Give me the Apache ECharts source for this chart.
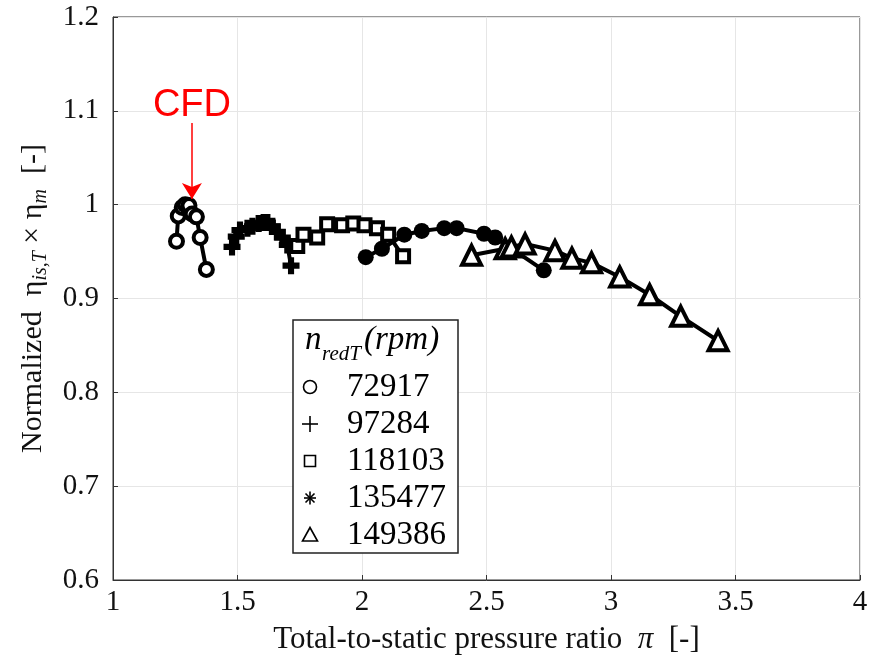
<!DOCTYPE html>
<html>
<head>
<meta charset="utf-8">
<script src="https://cdn.jsdelivr.net/npm/echarts@6/dist/echarts.min.js"></script>
<style>html,body{margin:0;padding:0;background:#fff}#c{width:881px;height:662px}</style>
</head>
<body>
<div id="c"></div>
<script>
// ---- data ----
const speedNames = ['72917', '97284', '118103', '135477', '149386'];
const xTickLabels = ['1', '1.5', '2', '2.5', '3', '3.5', '4'];
const yTickLabels = ['0.6', '0.7', '0.8', '0.9', '1', '1.1', '1.2'];

const pr72917  = [1.255, 1.262, 1.278, 1.290, 1.305, 1.318, 1.335, 1.350, 1.375];
const eta72917 = [0.961, 0.988, 0.997, 1.000, 0.999, 0.990, 0.987, 0.965, 0.931];

const pr97284  = [1.478, 1.495, 1.510, 1.540, 1.560, 1.585, 1.605, 1.620, 1.640, 1.660, 1.680, 1.700, 1.715];
const eta97284 = [0.955, 0.966, 0.973, 0.975, 0.977, 0.980, 0.981, 0.981, 0.977, 0.971, 0.965, 0.957, 0.935];

const pr118103  = [1.740, 1.765, 1.820, 1.860, 1.920, 1.965, 2.010, 2.060, 2.105, 2.165];
const eta118103 = [0.956, 0.968, 0.965, 0.979, 0.978, 0.980, 0.978, 0.975, 0.968, 0.945];

const pr135477  = [2.015, 2.080, 2.170, 2.240, 2.330, 2.380, 2.490, 2.535, 2.730];
const eta135477 = [0.944, 0.953, 0.968, 0.972, 0.975, 0.975, 0.969, 0.965, 0.930];

const pr149386  = [2.440, 2.575, 2.600, 2.655, 2.775, 2.843, 2.922, 3.035, 3.155, 3.280, 3.430];
const eta149386 = [0.946, 0.953, 0.955, 0.958, 0.951, 0.943, 0.938, 0.923, 0.904, 0.881, 0.855];

const cfdPoint = [1.317, 1.006];
const cfdStart = [1.317, 1.087];

// ---- build ----
const zip = (a, b) => a.map((v, i) => [v, b[i]]);
const SERIF = 'Liberation Serif';
const PLUS = 'path://M3.2,0H6.8V3.2H10V6.8H6.8V10H3.2V6.8H0V3.2H3.2Z';

function lineSeries(name, x, y, symbol, size, filled) {
  return {
    name: name, type: 'line', data: zip(x, y),
    symbol: symbol, symbolSize: size, showSymbol: true,
    lineStyle: {color: '#000', width: 4},
    itemStyle: filled
      ? {color: '#000', borderColor: '#000', borderWidth: 0}
      : {color: '#fff', borderColor: '#000', borderWidth: 4},
    emphasis: {disabled: true}, animation: false, z: 3
  };
}

const series = [
  lineSeries(speedNames[0], pr72917, eta72917, 'circle', 13, false),
  lineSeries(speedNames[1], pr97284, eta97284, PLUS, 17, true),
  lineSeries(speedNames[2], pr118103, eta118103, 'rect', 12, false),
  lineSeries(speedNames[3], pr135477, eta135477, 'circle', 16, true),
  lineSeries(speedNames[4], pr149386, eta149386, 'triangle', 19, false)
];
series[0].markLine = {
  silent: true, animation: false,
  symbol: ['none', 'arrow'], symbolSize: [15, 16],
  lineStyle: {color: '#ff0000', width: 1.5, type: 'solid'},
  label: {show: true, position: 'start', formatter: 'CFD', color: '#ff0000',
          fontSize: 38, fontFamily: 'Liberation Sans', distance: -1},
  data: [[{coord: cfdStart}, {coord: cfdPoint}]]
};

// legend box (graphic)
const LX = 293, LY = 320, LW = 165, LH = 233;
const rowY = [387, 424, 461, 498, 535];
const iconX = 310;
const legendGraphic = [
  {type: 'rect', shape: {x: LX, y: LY, width: LW, height: LH},
   style: {fill: '#fff', stroke: '#222', lineWidth: 1.5}, z: 10},
  {type: 'text', x: 305, y: 340, z: 11,
   style: {text: 'n', font: 'italic 33px "Liberation Serif"', fill: '#000', textVerticalAlign: 'middle'}},
  {type: 'text', x: 322, y: 354, z: 11,
   style: {text: 'redT', font: 'italic 21px "Liberation Serif"', fill: '#000', textVerticalAlign: 'middle'}},
  {type: 'text', x: 364, y: 340, z: 11,
   style: {text: '(rpm)', font: 'italic 33px "Liberation Serif"', fill: '#000', textVerticalAlign: 'middle'}},
  // icons
  {type: 'circle', shape: {cx: iconX, cy: rowY[0], r: 6.5}, style: {fill: 'none', stroke: '#000', lineWidth: 1.6}, z: 11},
  {type: 'polyline', shape: {points: [[iconX - 8, rowY[1]], [iconX + 8, rowY[1]]]}, style: {stroke: '#000', lineWidth: 1.6}, z: 11},
  {type: 'polyline', shape: {points: [[iconX, rowY[1] - 8], [iconX, rowY[1] + 8]]}, style: {stroke: '#000', lineWidth: 1.6}, z: 11},
  {type: 'rect', shape: {x: iconX - 5.5, y: rowY[2] - 5.5, width: 11, height: 11}, style: {fill: 'none', stroke: '#000', lineWidth: 1.6}, z: 11},
  {type: 'polyline', shape: {points: [[iconX - 6, rowY[3]], [iconX + 6, rowY[3]]]}, style: {stroke: '#000', lineWidth: 1.6}, z: 11},
  {type: 'polyline', shape: {points: [[iconX, rowY[3] - 6.5], [iconX, rowY[3] + 6.5]]}, style: {stroke: '#000', lineWidth: 1.6}, z: 11},
  {type: 'polyline', shape: {points: [[iconX - 4.5, rowY[3] - 4.5], [iconX + 4.5, rowY[3] + 4.5]]}, style: {stroke: '#000', lineWidth: 1.6}, z: 11},
  {type: 'polyline', shape: {points: [[iconX - 4.5, rowY[3] + 4.5], [iconX + 4.5, rowY[3] - 4.5]]}, style: {stroke: '#000', lineWidth: 1.6}, z: 11},
  {type: 'polygon', shape: {points: [[iconX, rowY[4] - 7.5], [iconX - 7.5, rowY[4] + 6], [iconX + 7.5, rowY[4] + 6]]}, style: {fill: 'none', stroke: '#000', lineWidth: 1.6}, z: 11}
];
speedNames.forEach((n, i) => {
  legendGraphic.push({type: 'text', x: 347, y: rowY[i], z: 11,
    style: {text: n, font: '33px "Liberation Serif"', fill: '#000', textVerticalAlign: 'middle'}});
});

const chart = echarts.init(document.getElementById('c'), null, {renderer: 'canvas'});
chart.setOption({
  animation: false,
  backgroundColor: '#fff',
  grid: {left: 113, right: 21, top: 17, bottom: 82, show: true, borderColor: '#333', borderWidth: 1, backgroundColor: 'transparent'},
  xAxis: {
    type: 'value', min: 1, max: 4, interval: 0.5,
    axisLine: {show: true, lineStyle: {color: '#333', width: 1}},
    axisTick: {show: true, inside: true, length: 5, lineStyle: {color: '#333'}},
    splitLine: {show: true, lineStyle: {color: '#e6e6e6', width: 1}},
    axisLabel: {fontFamily: SERIF, fontSize: 29, color: '#111', margin: 8,
      formatter: (v) => xTickLabels[Math.round((v - 1) / 0.5)]},
    name: '{t|Total-to-static pressure ratio  }{p|π}{t|  [-]}',
    nameLocation: 'middle', nameGap: 44,
    nameTextStyle: {fontFamily: SERIF, fontSize: 31, color: '#111',
      rich: {t: {fontFamily: SERIF, fontSize: 31, color: '#111'},
             p: {fontFamily: SERIF, fontSize: 31, fontStyle: 'italic', color: '#111'}}}
  },
  yAxis: {
    type: 'value', min: 0.6, max: 1.2, interval: 0.1,
    axisLine: {show: true, lineStyle: {color: '#333', width: 1}},
    axisTick: {show: true, inside: true, length: 5, lineStyle: {color: '#333'}},
    splitLine: {show: true, lineStyle: {color: '#e6e6e6', width: 1}},
    axisLabel: {fontFamily: SERIF, fontSize: 29, color: '#111', margin: 14,
      formatter: (v) => yTickLabels[Math.round((v - 0.6) / 0.1)]},
    name: '{t|Normalized  η}{s|is,T}{t| × η}{s|m}{t|  [-]}',
    nameLocation: 'middle', nameGap: 62, nameRotate: 90,
    nameTextStyle: {fontFamily: SERIF, fontSize: 30, color: '#111',
      rich: {t: {fontFamily: SERIF, fontSize: 30, color: '#111', lineHeight: 36, verticalAlign: 'middle'},
             s: {fontFamily: SERIF, fontSize: 20, fontStyle: 'italic', color: '#111', lineHeight: 36, verticalAlign: 'bottom', padding: [10, 0, 0, 0]}}}
  },
  series: series,
  graphic: legendGraphic
});
</script>
</body>
</html>
